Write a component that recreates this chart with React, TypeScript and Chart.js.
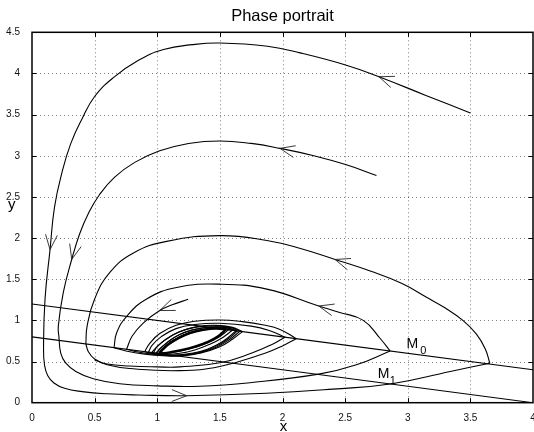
import React, { useEffect, useRef } from 'react';
import { Chart, registerables } from 'chart.js';

Chart.register(...registerables);

type P = [number, number];

const FONT = '"Liberation Sans", Arial, Helvetica, sans-serif';

// ---- axes ----
const xTicks = [0, 0.5, 1, 1.5, 2, 2.5, 3, 3.5, 4];
const xTickLabels = ['0', '0.5', '1', '1.5', '2', '2.5', '3', '3.5', '4'];
const yTicks = [0, 0.5, 1, 1.5, 2, 2.5, 3, 3.5, 4, 4.5];
const yTickLabels = ['0', '0.5', '1', '1.5', '2', '2.5', '3', '3.5', '4', '4.5'];

// ---- switching lines ----
const lineM0: P[] = [[0, 1.2], [4, 0.4]];
const lineM1: P[] = [[0, 0.8], [4, 0]];

// ---- trajectory 1 (starts at 3.5, 3.5) ----
const t1Outer: P[] = [
  [3.5, 3.52], [3.15, 3.73], [2.77, 3.96], [2.51, 4.1], [2.14, 4.25], [1.88, 4.33], [1.5, 4.37],
  [1.28, 4.35], [1.05, 4.29], [0.85, 4.16], [0.65, 3.95], [0.5, 3.72], [0.4, 3.45], [0.31, 3.15],
  [0.24, 2.8], [0.18, 2.38], [0.144, 1.86], [0.104, 1.26], [0.092, 0.65], [0.1, 0.46], [0.125, 0.33],
  [0.175, 0.24], [0.26, 0.175], [0.4, 0.135], [0.6, 0.108], [0.85, 0.094], [1.235, 0.085], [1.87, 0.114],
  [2.4, 0.165], [2.86, 0.227], [3.34, 0.38], [3.655, 0.48],
];
const t1A1: P[] = [
  [3.655, 0.48], [3.62, 0.65], [3.55, 0.83], [3.44, 1.0], [3.3, 1.15], [3.15, 1.28], [2.95, 1.45],
  [2.7, 1.6], [2.42, 1.74], [2.15, 1.87], [1.875, 1.97], [1.5, 2.03], [1.075, 1.96], [0.81, 1.82],
  [0.62, 1.58], [0.5, 1.26], [0.44, 0.93], [0.43, 0.716],
];
const t1B1: P[] = [
  [0.43, 0.716], [0.45, 0.62], [0.5, 0.53], [0.6, 0.46], [0.78, 0.415], [1.18, 0.39], [1.5, 0.44],
  [1.86, 0.6], [2.0, 0.69], [2.11, 0.778],
];
const t1A2: P[] = [
  [2.11, 0.778], [1.98, 0.89], [1.85, 0.944], [1.68, 0.985], [1.5, 1.005], [1.3, 0.99], [1.15, 0.94],
  [1.02, 0.84], [0.94, 0.72], [0.9, 0.62],
];
const t1B2: P[] = [
  [0.9, 0.62], [0.98, 0.59], [1.1, 0.57], [1.22, 0.575], [1.35, 0.61], [1.48, 0.68], [1.58, 0.77], [1.66, 0.868],
];
const t1A3: P[] = [
  [1.66, 0.868], [1.58, 0.915], [1.45, 0.935], [1.3, 0.915], [1.17, 0.855], [1.06, 0.76], [0.99, 0.67], [0.955, 0.609],
];
const t1B3: P[] = [
  [0.955, 0.609], [1.05, 0.59], [1.18, 0.6], [1.3, 0.64], [1.42, 0.71], [1.52, 0.79], [1.6, 0.88],
];
const t1A4: P[] = [
  [1.6, 0.88], [1.5, 0.91], [1.38, 0.895], [1.25, 0.85], [1.14, 0.77], [1.06, 0.68], [1.02, 0.596],
];

// ---- trajectory 2 (starts at 2.75, 2.75) ----
const t2Outer: P[] = [
  [2.75, 2.76], [2.51, 2.89], [2.25, 3.0], [1.98, 3.09], [1.75, 3.15], [1.5, 3.18], [1.25, 3.15],
  [1.02, 3.06], [0.82, 2.92], [0.66, 2.74], [0.54, 2.53], [0.45, 2.3], [0.38, 2.05], [0.317, 1.74],
  [0.25, 1.34], [0.21, 0.93], [0.215, 0.8], [0.23, 0.6], [0.27, 0.48], [0.35, 0.38], [0.49, 0.29],
  [0.7, 0.23], [1.0, 0.205], [1.34, 0.2], [1.74, 0.243], [2.3, 0.35], [2.59, 0.46], [2.86, 0.628],
];
const t2A1: P[] = [
  [2.86, 0.628], [2.78, 0.78], [2.645, 1.0], [2.45, 1.1], [2.29, 1.175], [1.875, 1.38], [1.5, 1.44],
  [1.155, 1.4], [0.915, 1.26], [0.756, 1.05], [0.676, 0.85], [0.655, 0.669],
];
const t2B1: P[] = [
  [0.655, 0.669], [0.75, 0.628], [0.9, 0.59], [1.05, 0.57], [1.2, 0.57], [1.35, 0.605], [1.5, 0.68],
  [1.6, 0.77], [1.68, 0.864],
];
const t2A2: P[] = [
  [1.68, 0.864], [1.6, 0.915], [1.47, 0.94], [1.32, 0.925], [1.18, 0.865], [1.07, 0.77], [1.0, 0.68], [0.97, 0.606],
];

// ---- trajectory 3 (starts at 1.25, 1.25) ----
const t3A1: P[] = [
  [1.247, 1.256], [1.12, 1.19], [1.02, 1.12], [0.89, 0.97], [0.8, 0.81], [0.755, 0.649],
];
const t3B1: P[] = [
  [0.755, 0.649], [0.85, 0.615], [0.98, 0.585], [1.1, 0.575], [1.24, 0.585], [1.38, 0.63], [1.5, 0.71],
  [1.58, 0.79], [1.64, 0.872],
];
const t3A2: P[] = [
  [1.64, 0.872], [1.55, 0.912], [1.43, 0.918], [1.3, 0.89], [1.18, 0.83], [1.08, 0.73], [1.02, 0.65], [1.0, 0.6],
];

// ---- trajectory 4 (starts at 0.5, 0.5) ----
const t4B1: P[] = [
  [0.5, 0.52], [0.6, 0.47], [0.78, 0.445], [1.0, 0.435], [1.18, 0.435], [1.5, 0.485], [1.75, 0.6],
  [1.92, 0.71], [2.02, 0.796],
];
const t4A1: P[] = [
  [2.02, 0.796], [1.9, 0.875], [1.75, 0.93], [1.5, 0.965], [1.3, 0.95], [1.15, 0.9], [1.03, 0.8],
  [0.96, 0.7], [0.93, 0.614],
];
const t4B2: P[] = [
  [0.93, 0.614], [1.02, 0.585], [1.14, 0.578], [1.27, 0.6], [1.4, 0.65], [1.52, 0.74], [1.63, 0.874],
];
const t4A2: P[] = [
  [1.63, 0.874], [1.54, 0.915], [1.42, 0.918], [1.28, 0.885], [1.16, 0.815], [1.07, 0.72], [1.01, 0.64], [0.99, 0.602],
];

// ---- limit cycle (lens) ----
const lensB: P[] = [
  [1.02, 0.596], [1.1, 0.612], [1.2, 0.64], [1.3, 0.68], [1.4, 0.735], [1.48, 0.8], [1.55, 0.89],
];
const lensA: P[] = [
  [1.55, 0.89], [1.47, 0.9], [1.37, 0.885], [1.26, 0.845], [1.17, 0.785], [1.09, 0.71], [1.04, 0.64], [1.02, 0.596],
];
const lens2B: P[] = [
  [1.01, 0.598], [1.1, 0.608], [1.2, 0.634], [1.3, 0.672], [1.4, 0.725], [1.49, 0.795], [1.57, 0.886],
];
const lens2A: P[] = [
  [1.57, 0.886], [1.48, 0.905], [1.38, 0.89], [1.27, 0.85], [1.17, 0.79], [1.09, 0.715], [1.03, 0.64], [1.01, 0.598],
];

// ---- arrowheads: tip and a point behind it on the curve ----
const arrowTips: P[] = [
  [2.77, 3.96], [1.98, 3.09], [0.144, 1.86], [0.317, 1.74], [1.235, 0.085], [2.42, 1.74], [2.29, 1.175], [1.02, 1.12],
];
const arrowBacks: P[] = [
  [3.0, 3.83], [2.25, 3.0], [0.165, 2.2], [0.37, 2.05], [0.9, 0.09], [2.7, 1.6], [2.5, 1.09], [1.15, 1.2],
];

// ---- text labels ----
const labelTexts = ['M', '0', 'M', '1'];
const labelPos: P[] = [[2.99, 0.66], [3.1, 0.59], [2.76, 0.296], [2.857, 0.227]];
const labelSizes = [14, 11, 14, 11];

const thinArcs: P[][] = [
  lineM0, lineM1,
  t1Outer, t1A1, t1B1, t1A2, t1B2, t1A3, t1B3, t1A4,
  t2Outer, t2A1, t2B1, t2A2,
  t3A1, t3B1, t3A2,
  t4B1, t4A1, t4B2, t4A2,
  lens2B, lens2A,
];
const thickArcs: P[][] = [lensB, lensA];

const matlabPlugin = {
  id: 'matlabAxes',
  beforeDatasetsDraw(chart: any) {
    const { ctx, chartArea: a, scales } = chart;
    const sx = scales.x;
    const sy = scales.y;
    ctx.save();
    ctx.strokeStyle = 'rgba(0,0,0,0.5)';
    ctx.lineWidth = 1;
    ctx.setLineDash([1, 3]);
    for (const v of xTicks) {
      const px = Math.round(sx.getPixelForValue(v)) + 0.5;
      if (px <= a.left + 2 || px >= a.right - 2) continue;
      ctx.beginPath();
      ctx.moveTo(px, a.top);
      ctx.lineTo(px, a.bottom);
      ctx.stroke();
    }
    for (const v of yTicks) {
      const py = Math.round(sy.getPixelForValue(v)) + 0.5;
      if (py <= a.top + 2 || py >= a.bottom - 2) continue;
      ctx.beginPath();
      ctx.moveTo(a.left, py);
      ctx.lineTo(a.right, py);
      ctx.stroke();
    }
    ctx.restore();
  },
  afterDatasetsDraw(chart: any) {
    const { ctx, chartArea: a, scales } = chart;
    const sx = scales.x;
    const sy = scales.y;
    ctx.save();
    // arrowheads
    ctx.strokeStyle = '#222';
    ctx.lineWidth = 0.9;
    const L = 16;
    const half = 0.38;
    arrowTips.forEach((tip, i) => {
      const back = arrowBacks[i];
      const tx = sx.getPixelForValue(tip[0]);
      const ty = sy.getPixelForValue(tip[1]);
      const bx = sx.getPixelForValue(back[0]);
      const by = sy.getPixelForValue(back[1]);
      const ang = Math.atan2(by - ty, bx - tx);
      ctx.beginPath();
      for (const s of [-1, 1]) {
        ctx.moveTo(tx, ty);
        ctx.lineTo(tx + L * Math.cos(ang + s * half), ty + L * Math.sin(ang + s * half));
      }
      ctx.stroke();
    });
    // M0 / M1 labels
    ctx.fillStyle = '#000';
    ctx.textAlign = 'left';
    ctx.textBaseline = 'alphabetic';
    labelTexts.forEach((t, i) => {
      ctx.font = `${labelSizes[i]}px ${FONT}`;
      ctx.fillText(t, sx.getPixelForValue(labelPos[i][0]), sy.getPixelForValue(labelPos[i][1]));
    });
    // frame
    ctx.strokeStyle = '#000';
    ctx.lineWidth = 1.5;
    ctx.strokeRect(a.left, a.top, a.right - a.left, a.bottom - a.top);
    // inward tick marks
    ctx.lineWidth = 1;
    const tl = 4.5;
    ctx.beginPath();
    for (const v of xTicks) {
      const px = Math.round(sx.getPixelForValue(v)) + 0.5;
      if (px <= a.left + 2 || px >= a.right - 2) continue;
      ctx.moveTo(px, a.top);
      ctx.lineTo(px, a.top + tl);
      ctx.moveTo(px, a.bottom);
      ctx.lineTo(px, a.bottom - tl);
    }
    for (const v of yTicks) {
      const py = Math.round(sy.getPixelForValue(v)) + 0.5;
      if (py <= a.top + 2 || py >= a.bottom - 2) continue;
      ctx.moveTo(a.left, py);
      ctx.lineTo(a.left + tl, py);
      ctx.moveTo(a.right, py);
      ctx.lineTo(a.right - tl, py);
    }
    ctx.stroke();
    // axis titles
    ctx.font = `15px ${FONT}`;
    ctx.textAlign = 'center';
    ctx.fillText('x', (a.left + a.right) / 2 + 1, 431);
    ctx.fillText('y', 11.7, 208.5);
    ctx.restore();
  },
};

const toXY = (arr: P[]) => arr.map(([x, y]) => ({ x, y }));

export default function App() {
  const ref = useRef<HTMLCanvasElement | null>(null);

  useEffect(() => {
    document.body.style.margin = '0';
    if (!ref.current) return;
    const datasets: any[] = [
      ...thinArcs.map((arc) => ({
        data: toXY(arc),
        showLine: true,
        borderColor: '#000',
        borderWidth: 1.1,
        pointRadius: 0,
        tension: 0.45,
        fill: false,
      })),
      ...thickArcs.map((arc) => ({
        data: toXY(arc),
        showLine: true,
        borderColor: '#000',
        borderWidth: 2.4,
        pointRadius: 0,
        tension: 0.45,
        fill: false,
      })),
    ];
    const chart = new Chart(ref.current, {
      type: 'scatter',
      data: { datasets },
      plugins: [matlabPlugin],
      options: {
        animation: false,
        responsive: false,
        events: [],
        layout: { padding: { left: 0, right: 1, top: 0, bottom: 0 } },
        plugins: {
          legend: { display: false },
          tooltip: { enabled: false },
          title: {
            display: true,
            text: 'Phase portrait',
            fullSize: false,
            color: '#000',
            font: { family: FONT, size: 16.5, weight: 'normal' },
            padding: { top: 6.6, bottom: 5.9 },
          },
        },
        scales: {
          x: {
            type: 'linear',
            min: 0,
            max: 4,
            grid: { display: false },
            border: { display: false },
            afterBuildTicks: (s: any) => {
              s.ticks = xTicks.map((value) => ({ value }));
            },
            afterFit: (s: any) => {
              s.height = 29.3;
              s.paddingLeft = 0;
              s.paddingRight = 0;
            },
            ticks: {
              padding: 2,
              color: '#111',
              font: { family: FONT, size: 10 },
              maxRotation: 0,
              autoSkip: false,
              callback: (v: any) => xTickLabels[xTicks.indexOf(Number(v))] ?? '',
            },
          },
          y: {
            type: 'linear',
            min: 0,
            max: 4.5,
            grid: { display: false },
            border: { display: false },
            afterBuildTicks: (s: any) => {
              s.ticks = yTicks.map((value) => ({ value }));
            },
            afterFit: (s: any) => {
              s.width = 32;
              s.paddingTop = 0;
              s.paddingBottom = 0;
            },
            ticks: {
              padding: 4,
              color: '#111',
              font: { family: FONT, size: 10 },
              autoSkip: false,
              callback: (v: any) => yTickLabels[yTicks.indexOf(Number(v))] ?? '',
            },
          },
        },
      } as any,
    });
    return () => chart.destroy();
  }, []);

  return (
    <div style={{ width: 534, height: 432 }}>
      <canvas ref={ref} width={534} height={432} style={{ display: 'block' }} />
    </div>
  );
}
